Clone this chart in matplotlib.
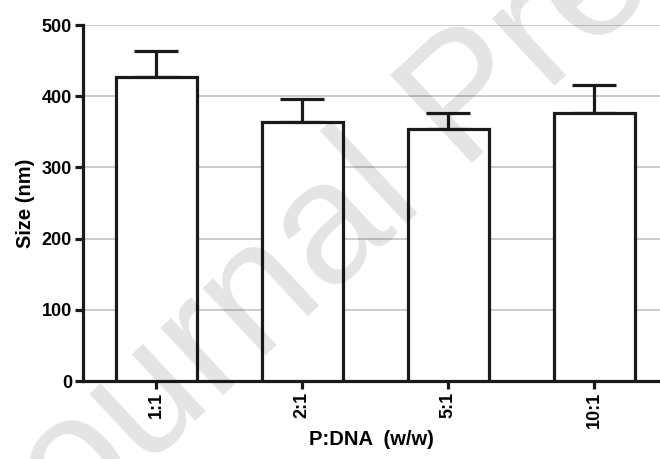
import matplotlib
matplotlib.use("Agg")
import matplotlib.pyplot as plt
import numpy as np

categories = ["1:1", "2:1", "5:1", "10:1"]
sizes = [427, 364, 354, 376]
errors = [36, 32, 23, 40]
yticks = [0, 100, 200, 300, 400, 500]

plt.rcParams['font.family'] = ['Liberation Sans', 'DejaVu Sans']
plt.rcParams['font.weight'] = 'bold'

fig = plt.figure(figsize=(6.6, 4.59), dpi=100)
ax = fig.add_axes([83/660, 1-381/459, 1-83/660, (381-25)/459])

x = np.arange(len(categories))
lw = 2.3
ax.bar(x, sizes, width=0.555, color='white', edgecolor='#1a1a1a', linewidth=lw, zorder=3)
ax.errorbar(x, sizes, yerr=[np.zeros(len(errors)), errors], fmt='none', ecolor='#1a1a1a',
            elinewidth=lw, capsize=15.5, capthick=lw, zorder=2)

ax.set_xlim(-0.5, 3.45)
ax.set_ylim(0, 500)
ax.set_yticks(yticks)
ax.set_xticks(x)
ax.set_xticklabels(categories, rotation=90, fontsize=13, fontweight='bold')
ax.set_yticklabels([str(v) for v in yticks], fontsize=13, fontweight='bold')
ax.yaxis.grid(True, color='#c8c8c8', linewidth=1.3, zorder=0)
ax.set_axisbelow(True)
for s in ['top', 'right']:
    ax.spines[s].set_visible(False)
for s in ['left', 'bottom']:
    ax.spines[s].set_linewidth(lw)
    ax.spines[s].set_color('#1a1a1a')
ax.tick_params(axis='both', direction='out', length=6, width=lw, color='#1a1a1a', pad=2)
ax.set_ylabel('Size (nm)', fontsize=14.5, fontweight='bold', labelpad=5)
ax.set_xlabel('P:DNA  (w/w)', fontsize=14.5, fontweight='bold', labelpad=1)

fig.text(10/660, 1-594/459, 'Journal Pre-proof', fontsize=125, fontweight='normal',
         color='black', alpha=0.11, rotation=43, rotation_mode='anchor',
         ha='left', va='baseline', zorder=10, family=['Liberation Sans'])

fig.savefig('out.png', dpi=100)
